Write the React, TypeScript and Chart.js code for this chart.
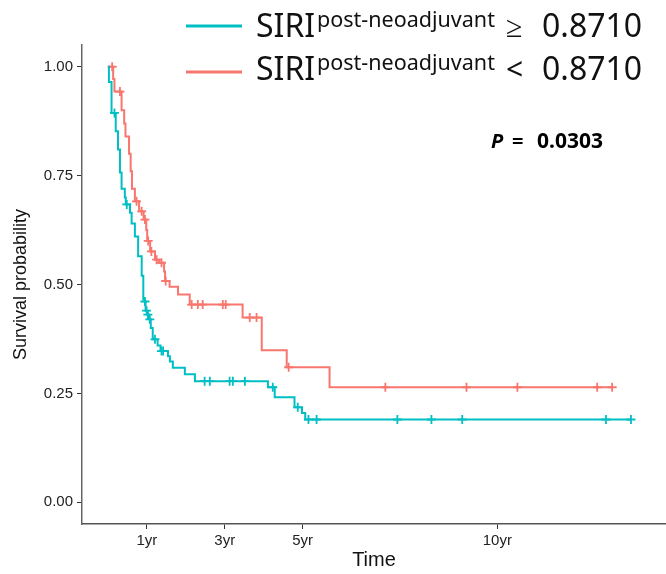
import React, { useEffect, useRef } from "react";
import { Chart, registerables } from "chart.js";
Chart.register(...registerables);

// Time in months; survival probability
const highTimes = [0, 0.3, 1.1, 2.4, 3.1, 3.7, 4.2, 5.2, 5.5, 6.8, 7.3, 8.3, 9.3, 10.4, 10.9, 11.2, 11.6, 12.2, 12.6, 13.2, 13.8, 15.3, 16.2, 18.5, 19.1, 20.0, 23.7, 26.8, 49.3, 51.4, 57.5, 59.8, 60.8, 161.2];
const highSurv = [1, 0.965, 0.894, 0.852, 0.81, 0.757, 0.72, 0.7, 0.684, 0.665, 0.64, 0.61, 0.565, 0.52, 0.466, 0.461, 0.44, 0.431, 0.42, 0.4, 0.374, 0.36, 0.347, 0.335, 0.323, 0.309, 0.294, 0.278, 0.264, 0.241, 0.218, 0.205, 0.19, 0.19];
const highCensor = [2.0, 5.8, 11.4, 11.9, 12.3, 12.9, 14.5, 16.5, 17.0, 29.8, 31.4, 37.5, 38.5, 42.2, 50.8, 58.5, 61.8, 64.3, 89.2, 99.7, 109.2, 153.5, 161.2];

const lowTimes = [0, 1.6, 2.0, 4.2, 5.0, 5.4, 6.5, 7.0, 7.4, 8.3, 9.6, 11.0, 11.8, 12.1, 13.0, 14.5, 15.8, 17.3, 17.6, 19.0, 21.6, 25.2, 41.5, 47.4, 55.1, 68.3, 155.4];
const lowSurv = [1, 0.972, 0.943, 0.9, 0.87, 0.84, 0.8, 0.76, 0.72, 0.691, 0.668, 0.649, 0.625, 0.6, 0.576, 0.557, 0.55, 0.53, 0.508, 0.495, 0.477, 0.454, 0.424, 0.349, 0.31, 0.264, 0.264];
const lowCensor = [1.3, 3.7, 8.8, 10.4, 11.4, 12.4, 13.4, 15.0, 16.5, 17.8, 25.8, 27.7, 29.2, 35.4, 36.3, 43.7, 45.8, 55.7, 85.5, 110.5, 126.2, 150.8, 155.4];

const xTickValues = [12, 36, 60, 120];
const xTickLabels = ["1yr", "3yr", "5yr", "10yr"];
const yTickValues = [0, 0.25, 0.5, 0.75, 1];

const seriesColors = ["#00BFC4", "#F8766D"];
const legendSymbols = ["\u2265", "<"];
const cutoffLabel = "0.8710";
const pValueText = "0.0303";

function survAt(times: number[], surv: number[], t: number) {
  let s = surv[0];
  for (let i = 0; i < times.length; i++) {
    if (times[i] <= t) s = surv[i];
  }
  return s;
}

const overlayPlugin = {
  id: "overlay",
  afterDraw(chart: any) {
    const ctx = chart.ctx;
    ctx.save();
    const rows = [
      { lineY: 26, base: 37 },
      { lineY: 72, base: 80 },
    ];
    rows.forEach((r, i) => {
      ctx.strokeStyle = seriesColors[i];
      ctx.lineWidth = 3;
      ctx.beginPath();
      ctx.moveTo(186, r.lineY);
      ctx.lineTo(242, r.lineY);
      ctx.stroke();
      ctx.fillStyle = "#111";
      ctx.textBaseline = "alphabetic";
      ctx.textAlign = "left";
      ctx.font = "32px 'Noto Sans'";
      ctx.fillText("SIRI", 256, r.base);
      ctx.font = "20px 'Noto Sans'";
      const sup = "post-neoadjuvant";
      const w = ctx.measureText(sup).width;
      const size = 20 * 178 / w;
      ctx.font = size.toFixed(2) + "px 'Noto Sans'";
      ctx.fillText(sup, 317, r.base - 10);
      ctx.font = "30px 'Noto Sans'";
      ctx.fillText(legendSymbols[i], 506, r.base);
      ctx.font = "32px 'Noto Sans'";
      ctx.fillText(cutoffLabel, 542, r.base);
    });
    ctx.fillStyle = "#000";
    ctx.font = "italic bold 20px 'Noto Sans'";
    ctx.fillText("P", 491, 148);
    ctx.font = "bold 20px 'Noto Sans'";
    ctx.fillText("=", 512, 148);
    ctx.font = "bold 21px 'Noto Sans'";
    ctx.fillText(pValueText, 537, 148);
    ctx.restore();
  },
};

export default function App() {
  const ref = useRef<HTMLCanvasElement | null>(null);
  useEffect(() => {
    document.body.style.margin = "0";
    const canvas = ref.current!;
    const lineData = (times: number[], surv: number[]) => times.map((t, i) => ({ x: t, y: surv[i] }));
    const censorData = (cens: number[], times: number[], surv: number[]) =>
      cens.map((t) => ({ x: t, y: survAt(times, surv, t) }));
    const tickFont = { family: "'Liberation Sans', Arial, sans-serif", size: 15 };
    const chart = new Chart(canvas, {
      type: "line",
      data: {
        datasets: [
          {
            data: lineData(highTimes, highSurv),
            borderColor: seriesColors[0],
            borderWidth: 2,
            pointRadius: 0,
            stepped: "before",
            fill: false,
          },
          {
            data: lineData(lowTimes, lowSurv),
            borderColor: seriesColors[1],
            borderWidth: 2,
            pointRadius: 0,
            stepped: "before",
            fill: false,
          },
          {
            data: censorData(highCensor, highTimes, highSurv),
            showLine: false,
            pointStyle: "cross",
            pointRadius: 4.5,
            pointBorderWidth: 1.8,
            pointBorderColor: seriesColors[0],
            borderColor: seriesColors[0],
          },
          {
            data: censorData(lowCensor, lowTimes, lowSurv),
            showLine: false,
            pointStyle: "cross",
            pointRadius: 4.5,
            pointBorderWidth: 1.8,
            pointBorderColor: seriesColors[1],
            borderColor: seriesColors[1],
          },
        ],
      } as any,
      options: {
        animation: false,
        responsive: false,
        devicePixelRatio: 1,
        layout: { autoPadding: false, padding: { top: 45, right: 0, left: 0, bottom: 0 } },
        plugins: { legend: { display: false }, tooltip: { enabled: false } },
        scales: {
          x: {
            type: "linear",
            min: -8,
            max: 172,
            afterBuildTicks: (s: any) => {
              s.ticks = xTickValues.map((v) => ({ value: v }));
            },
            afterFit: (s: any) => {
              s.height = 50;
            },
            ticks: {
              autoSkip: false,
              maxRotation: 0,
              padding: 3,
              color: "#222",
              font: tickFont,
              callback: (v: any) => {
                const i = xTickValues.indexOf(Number(v));
                return i >= 0 ? xTickLabels[i] : "";
              },
            },
            grid: { drawOnChartArea: false, drawTicks: true, tickLength: 5, color: "#333", lineWidth: 1 },
            border: { display: true, color: "#555", width: 1.5 },
            title: {
              display: true,
              text: "Time",
              color: "#111",
              font: { family: "'Liberation Sans', Arial, sans-serif", size: 20 },
              padding: { top: 0, bottom: 2 },
            },
          },
          y: {
            type: "linear",
            min: -0.05,
            max: 1.05,
            afterBuildTicks: (s: any) => {
              s.ticks = yTickValues.map((v) => ({ value: v }));
            },
            afterFit: (s: any) => {
              s.width = 82;
            },
            ticks: {
              padding: 4,
              color: "#222",
              font: tickFont,
              callback: (v: any) => Number(v).toFixed(2),
            },
            grid: { drawOnChartArea: false, drawTicks: true, tickLength: 5, color: "#333", lineWidth: 1 },
            border: { display: true, color: "#666", width: 1.5 },
            title: {
              display: true,
              text: "Survival probability",
              color: "#111",
              font: { family: "'Liberation Sans', Arial, sans-serif", size: 18 },
              padding: { top: 10, bottom: 0 },
            },
          },
        },
      } as any,
      plugins: [overlayPlugin],
    });
    return () => chart.destroy();
  }, []);
  return (
    <div style={{ width: 666, height: 574, background: "#fff" }}>
      <canvas ref={ref} width={666} height={574} />
    </div>
  );
}
